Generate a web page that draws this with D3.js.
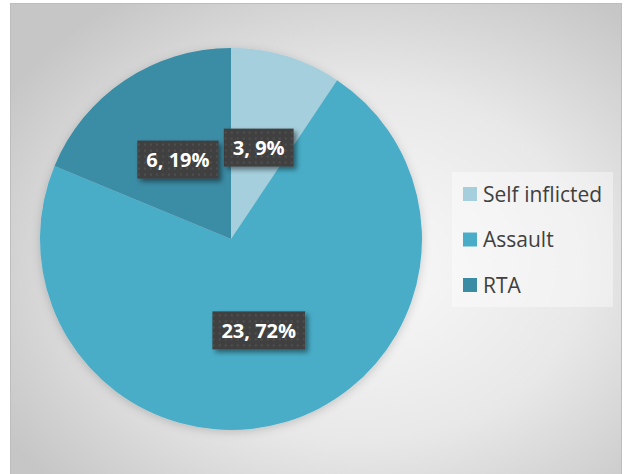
<!DOCTYPE html>
<head>
  <style>
    body { margin: 0; background: #fff; }
  </style>
<title>Injury causes</title>
</head>
<body>
  <script src="https://cdn.jsdelivr.net/npm/d3@7/dist/d3.min.js"></script>
  <script>
    // data
    const categories = ["Self inflicted", "Assault", "RTA"];
    const counts = [3, 23, 6];
    const percents = ["9%", "72%", "19%"];
    const colors = ["#a5cfdd", "#4aadc7", "#3a8ca5"];

    const W = 631, H = 474;
    const frame = {x: 10.5, y: 3.5, w: 611, h: 475};
    const cx = 231, cy = 239, radius = 191;

    var svg = d3.select("body").append("svg")
      .attr("width", W)
      .attr("height", H);

    var defs = svg.append("defs");

    // background gradient
    var grad = defs.append("radialGradient")
      .attr("id", "bg")
      .attr("cx", "57%").attr("cy", "55%").attr("r", "68%");
    grad.append("stop").attr("offset", "0%").attr("stop-color", "#fafafa");
    grad.append("stop").attr("offset", "55%").attr("stop-color", "#e8e8e8");
    grad.append("stop").attr("offset", "100%").attr("stop-color", "#c6c6c6");

    // dotted label pattern
    var pat = defs.append("pattern")
      .attr("id", "dots")
      .attr("width", 6).attr("height", 6)
      .attr("patternUnits", "userSpaceOnUse");
    pat.append("rect").attr("width", 6).attr("height", 6).attr("fill", "#404040");
    pat.append("rect").attr("x", 2).attr("y", 2).attr("width", 2).attr("height", 2).attr("fill", "#4f4f4f");

    // shadows
    var sh = defs.append("filter").attr("id", "shadow")
      .attr("x", "-20%").attr("y", "-20%").attr("width", "150%").attr("height", "150%");
    sh.append("feDropShadow").attr("dx", 3).attr("dy", 3).attr("stdDeviation", 2.5)
      .attr("flood-color", "#000").attr("flood-opacity", 0.45);

    var pieSh = defs.append("filter").attr("id", "pieshadow")
      .attr("x", "-20%").attr("y", "-20%").attr("width", "140%").attr("height", "140%");
    pieSh.append("feDropShadow").attr("dx", 0).attr("dy", 2).attr("stdDeviation", 5)
      .attr("flood-color", "#000").attr("flood-opacity", 0.18);

    // chart frame
    svg.append("rect")
      .attr("x", frame.x).attr("y", frame.y)
      .attr("width", frame.w).attr("height", frame.h)
      .attr("fill", "url(#bg)")
      .attr("stroke", "#bdbdbd")
      .attr("stroke-width", 1);

    var data = categories.map(function (c, i) {
      return {name: c, value: counts[i], pct: percents[i], color: colors[i]};
    });

    var pie = d3.pie().sort(null).value(function (d) { return d.value; });
    var arc = d3.arc().innerRadius(0).outerRadius(radius);

    var g = svg.append("g")
      .attr("transform", "translate(" + cx + "," + cy + ")");

    var slices = g.append("g").attr("filter", "url(#pieshadow)");
    slices.selectAll("path")
      .data(pie(data))
      .enter().append("path")
      .attr("d", arc)
      .attr("fill", function (d) { return d.data.color; });

    // data labels
    var labels = g.selectAll(".lbl")
      .data(pie(data))
      .enter().append("g")
      .attr("class", "lbl")
      .attr("transform", function (d) {
        var c = arc.centroid(d);
        return "translate(" + c[0] + "," + c[1] + ")";
      });

    labels.each(function (d) {
      var sel = d3.select(this);
      var t = sel.append("text")
        .attr("text-anchor", "middle")
        .attr("dy", "0.36em")
        .style("font-family", "'Open Sans', sans-serif")
        .style("font-weight", "bold")
        .style("font-size", "20px")
        .attr("fill", "#fff")
        .text(d.data.value + ", " + d.data.pct);
      var bb = t.node().getBBox();
      sel.insert("rect", "text")
        .attr("x", bb.x - 9).attr("y", -19)
        .attr("width", bb.width + 18).attr("height", 38)
        .attr("fill", "url(#dots)")
        .attr("filter", "url(#shadow)");
    });

    // legend
    var legend = svg.append("g").attr("transform", "translate(452,172)");
    legend.append("rect")
      .attr("width", 161).attr("height", 135)
      .attr("fill", "#fff").attr("fill-opacity", 0.4);

    var item = legend.selectAll(".item")
      .data(data)
      .enter().append("g")
      .attr("class", "item")
      .attr("transform", function (d, i) { return "translate(11," + (22 + i * 45.5) + ")"; });

    item.append("rect")
      .attr("y", -7).attr("width", 14).attr("height", 14)
      .attr("fill", function (d) { return d.color; });

    item.append("text")
      .attr("x", 20).attr("dy", "0.36em")
      .style("font-family", "'Open Sans', sans-serif")
      .style("font-size", "21px")
      .attr("fill", "#404040")
      .text(function (d) { return d.name; });
  </script>
</body>
